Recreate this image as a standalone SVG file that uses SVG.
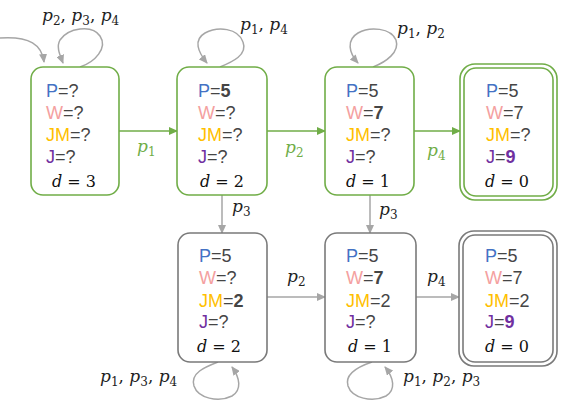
<svg xmlns="http://www.w3.org/2000/svg" width="561" height="406" viewBox="0 0 561 406">
<style>
.box{fill:#fff;stroke-width:1.6}
.g{stroke:#70AD47}
.k{stroke:#7a7a7a}
.v{font-family:"Liberation Sans",Arial,sans-serif;font-size:18px;fill:#454545}
.P{fill:#4472C4}.W{fill:#F4A0A0}.JM{fill:#FFC000}.J{fill:#7030A0}
.b{font-weight:bold}
.m{font-family:"DejaVu Serif",serif;font-size:17px;fill:#222}
.d{font-family:"DejaVu Serif",serif;font-size:16px;fill:#111}
.it{font-style:italic}
.gl{fill:#70AD47}
.ga{fill:none;stroke:#70AD47;stroke-width:1.6}
.ka{fill:none;stroke:#A6A6A6;stroke-width:1.5}
</style>
<defs>
<marker id="ag" markerUnits="userSpaceOnUse" markerWidth="10" markerHeight="8" refX="8" refY="4" orient="auto"><path d="M0,0 L9,4 L0,8 z" fill="#70AD47"/></marker>
<marker id="ak" markerUnits="userSpaceOnUse" markerWidth="10" markerHeight="8" refX="8" refY="4" orient="auto"><path d="M0,0 L9,4 L0,8 z" fill="#A6A6A6"/></marker>
</defs>

<g id="connectors">
<path class="ka" d="M0,38 C30,36 42,45 44,62" marker-end="url(#ak)"/>
<path class="ka" d="M80,67 C95,62 108,48 100,36 C92,24 68,28 60,40 C56,47 60,55 63,63" marker-end="url(#ak)"/>
<path class="ka" d="M220,67 C232,62 248,55 243,42 C238,28 218,26 205,33 C193,40 198,52 207,63" marker-end="url(#ak)"/>
<path class="ka" d="M373,67 C386,62 400,52 396,40 C391,28 370,26 358,33 C346,40 349,53 358,63" marker-end="url(#ak)"/>
<path class="ka" d="M218,362 C205,367 190,373 194,386 C198,398 218,403 232,396 C242,390 240,378 232,367" marker-end="url(#ak)"/>
<path class="ka" d="M372,362 C360,366 344,373 348,386 C352,398 372,403 386,396 C396,390 394,378 385,367" marker-end="url(#ak)"/>
<path class="ga" d="M119,131 L177,131" marker-end="url(#ag)"/>
<path class="ga" d="M267,131 L325,131" marker-end="url(#ag)"/>
<path class="ga" d="M414,131 L460,131" marker-end="url(#ag)"/>
<path class="ka" d="M222,195 L222,233" marker-end="url(#ak)"/>
<path class="ka" d="M370,195 L370,233" marker-end="url(#ak)"/>
<path class="ka" d="M267,297 L325,297" marker-end="url(#ak)"/>
<path class="ka" d="M416,297 L459,297" marker-end="url(#ak)"/>

<text class="m" x="42" y="21"><tspan class="it">p</tspan><tspan font-size="12" dy="4">2</tspan><tspan dy="-4">, </tspan><tspan class="it">p</tspan><tspan font-size="12" dy="4">3</tspan><tspan dy="-4">, </tspan><tspan class="it">p</tspan><tspan font-size="12" dy="4">4</tspan></text>
<text class="m" x="240" y="30"><tspan class="it">p</tspan><tspan font-size="12" dy="4">1</tspan><tspan dy="-4">, </tspan><tspan class="it">p</tspan><tspan font-size="12" dy="4">4</tspan></text>
<text class="m" x="397" y="34"><tspan class="it">p</tspan><tspan font-size="12" dy="4">1</tspan><tspan dy="-4">, </tspan><tspan class="it">p</tspan><tspan font-size="12" dy="4">2</tspan></text>
<text class="m" x="100" y="382"><tspan class="it">p</tspan><tspan font-size="12" dy="4">1</tspan><tspan dy="-4">, </tspan><tspan class="it">p</tspan><tspan font-size="12" dy="4">3</tspan><tspan dy="-4">, </tspan><tspan class="it">p</tspan><tspan font-size="12" dy="4">4</tspan></text>
<text class="m" x="403" y="382"><tspan class="it">p</tspan><tspan font-size="12" dy="4">1</tspan><tspan dy="-4">, </tspan><tspan class="it">p</tspan><tspan font-size="12" dy="4">2</tspan><tspan dy="-4">, </tspan><tspan class="it">p</tspan><tspan font-size="12" dy="4">3</tspan></text>
<text class="m gl" x="137" y="152"><tspan class="it">p</tspan><tspan font-size="12" dy="4">1</tspan></text>
<text class="m gl" x="285" y="153"><tspan class="it">p</tspan><tspan font-size="12" dy="4">2</tspan></text>
<text class="m gl" x="427" y="156"><tspan class="it">p</tspan><tspan font-size="12" dy="4">4</tspan></text>
<text class="m" x="232" y="212"><tspan class="it">p</tspan><tspan font-size="12" dy="4">3</tspan></text>
<text class="m" x="379" y="215"><tspan class="it">p</tspan><tspan font-size="12" dy="4">3</tspan></text>
<text class="m" x="287" y="282"><tspan class="it">p</tspan><tspan font-size="12" dy="4">2</tspan></text>
<text class="m" x="427" y="282"><tspan class="it">p</tspan><tspan font-size="12" dy="4">4</tspan></text>
</g>

<g id="s1">
<rect class="box g" x="31" y="67" width="88" height="128" rx="12"/>
<text class="v" x="46" y="97"><tspan class="P">P</tspan>=?</text>
<text class="v" x="46" y="119"><tspan class="W">W</tspan>=?</text>
<text class="v" x="46" y="141"><tspan class="JM">JM</tspan>=?</text>
<text class="v" x="46" y="163"><tspan class="J">J</tspan>=?</text>
<text class="d" x="52" y="187"><tspan class="it">d</tspan> = 3</text>
</g>

<g id="s2">
<rect class="box g" x="177" y="67" width="90" height="128" rx="12"/>
<text class="v" x="198" y="97"><tspan class="P">P</tspan>=<tspan class="b">5</tspan></text>
<text class="v" x="198" y="119"><tspan class="W">W</tspan>=?</text>
<text class="v" x="198" y="141"><tspan class="JM">JM</tspan>=?</text>
<text class="v" x="198" y="163"><tspan class="J">J</tspan>=?</text>
<text class="d" x="200" y="187"><tspan class="it">d</tspan> = 2</text>
</g>

<g id="s3">
<rect class="box g" x="325" y="67" width="89" height="128" rx="12"/>
<text class="v" x="346" y="97"><tspan class="P">P</tspan>=5</text>
<text class="v" x="346" y="119"><tspan class="W">W</tspan>=<tspan class="b">7</tspan></text>
<text class="v" x="346" y="141"><tspan class="JM">JM</tspan>=?</text>
<text class="v" x="346" y="163"><tspan class="J">J</tspan>=?</text>
<text class="d" x="346" y="187"><tspan class="it">d</tspan> = 1</text>
</g>

<g id="s4">
<rect class="box g" x="460" y="64" width="97" height="136" rx="15"/>
<rect class="box g" x="464" y="68" width="89" height="128" rx="12"/>
<text class="v" x="486" y="97"><tspan class="P">P</tspan>=5</text>
<text class="v" x="486" y="119"><tspan class="W">W</tspan>=7</text>
<text class="v" x="486" y="141"><tspan class="JM">JM</tspan>=?</text>
<text class="v" x="486" y="163"><tspan class="J">J</tspan>=<tspan class="b J">9</tspan></text>
<text class="d" x="485" y="187"><tspan class="it">d</tspan> = 0</text>
</g>

<g id="s5">
<rect class="box k" x="178" y="233" width="89" height="129" rx="12"/>
<text class="v" x="199" y="262"><tspan class="P">P</tspan>=5</text>
<text class="v" x="199" y="284"><tspan class="W">W</tspan>=?</text>
<text class="v" x="199" y="307"><tspan class="JM">JM</tspan>=<tspan class="b">2</tspan></text>
<text class="v" x="199" y="328"><tspan class="J">J</tspan>=?</text>
<text class="d" x="197" y="352"><tspan class="it">d</tspan> = 2</text>
</g>

<g id="s6">
<rect class="box k" x="325" y="233" width="91" height="129" rx="12"/>
<text class="v" x="346" y="262"><tspan class="P">P</tspan>=5</text>
<text class="v" x="346" y="284"><tspan class="W">W</tspan>=<tspan class="b">7</tspan></text>
<text class="v" x="346" y="307"><tspan class="JM">JM</tspan>=2</text>
<text class="v" x="346" y="328"><tspan class="J">J</tspan>=?</text>
<text class="d" x="348" y="352"><tspan class="it">d</tspan> = 1</text>
</g>

<g id="s7">
<rect class="box k" x="459" y="231" width="98" height="135" rx="15"/>
<rect class="box k" x="463" y="235" width="90" height="127" rx="12"/>
<text class="v" x="485" y="262"><tspan class="P">P</tspan>=5</text>
<text class="v" x="485" y="284"><tspan class="W">W</tspan>=7</text>
<text class="v" x="485" y="307"><tspan class="JM">JM</tspan>=2</text>
<text class="v" x="485" y="328"><tspan class="J">J</tspan>=<tspan class="b J">9</tspan></text>
<text class="d" x="485" y="352"><tspan class="it">d</tspan> = 0</text>
</g>
</svg>
